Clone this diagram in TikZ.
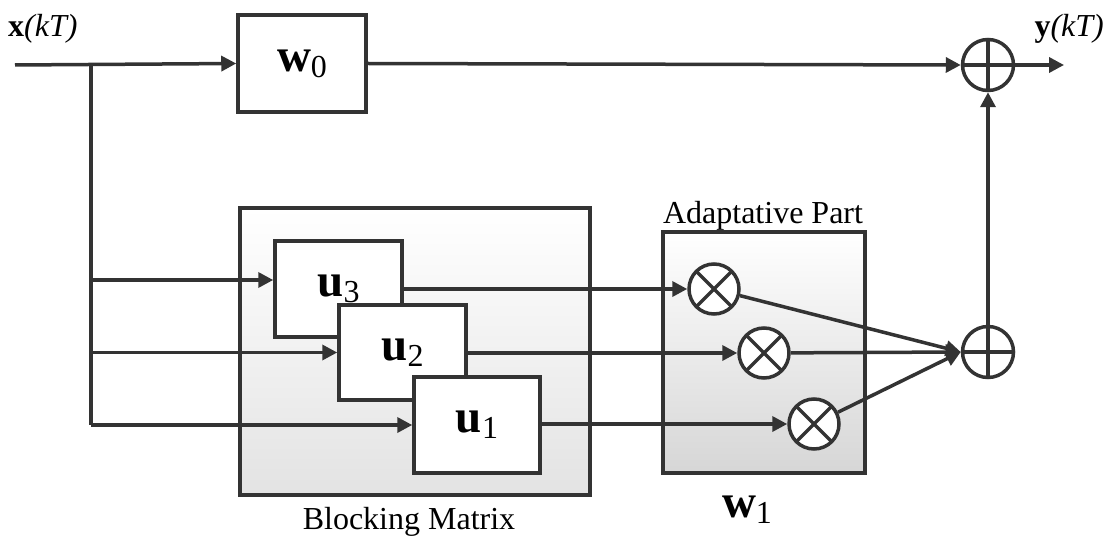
\documentclass[tikz,border=0pt]{standalone}
\usepackage{fontspec}
\setmainfont{Liberation Serif}
\usetikzlibrary{arrows.meta}
\definecolor{ln}{HTML}{333333}
\newcommand{\bsym}[2]{{\fontsize{47}{47}\selectfont\bfseries #1}{\fontsize{32}{32}\selectfont\raisebox{-6pt}{#2}}}
\begin{document}
\begin{tikzpicture}[x=1pt,y=-1pt,
  wire/.style={draw=ln, line width=3.5pt},
  arr/.style={wire, -{Triangle[length=15pt,width=15pt]}},
  blk/.style={draw=ln, line width=3.5pt, fill=white, inner sep=0pt},
  grp/.style={draw=ln, line width=3.5pt, inner sep=0pt, top color=white},
  lbl/.style={font=\fontsize{32}{34}\selectfont, inner sep=0pt},
  sumnode/.style={circle, draw=ln, line width=3.5pt, fill=white, minimum size=51pt, inner sep=0pt,
    path picture={\draw[ln, line width=3.5pt] (path picture bounding box.north) -- (path picture bounding box.south)
      (path picture bounding box.west) -- (path picture bounding box.east);}},
  mulnode/.style={circle, draw=ln, line width=3.5pt, fill=white, minimum size=50pt, inner sep=0pt,
    path picture={\draw[ln, line width=3.5pt] (path picture bounding box.north west) -- (path picture bounding box.south east)
      (path picture bounding box.south west) -- (path picture bounding box.north east);}}
]
\useasboundingbox (0,0) rectangle (1107,545);
% group boxes
\node[grp, bottom color=black!11, minimum width=350pt, minimum height=287pt] (bm) at (415,351.5) {};
\node[grp, bottom color=black!16, minimum width=202pt, minimum height=241pt] (ap) at (764,352.5) {};
% blocks
\node[blk, minimum width=128pt, minimum height=97pt] (w0) at (302,63.5) {\bsym{w}{0}};
\node[blk, minimum width=127pt, minimum height=96pt] (u3) at (338.5,289) {\bsym{u}{3}};
\node[blk, minimum width=127pt, minimum height=95pt] (u2) at (402.5,352.5) {\bsym{u}{2}};
\node[blk, minimum width=126pt, minimum height=96pt] (u1) at (477,425) {\bsym{u}{1}};
% circles
\node[sumnode] (s1) at (988,65) {};
\node[sumnode] (s2) at (988,352) {};
\node[mulnode] (m3) at (714,289) {};
\node[mulnode] (m2) at (764,353) {};
\node[mulnode] (m1) at (814,424) {};
% coordinates
\coordinate (in) at (15,65);
\coordinate (br) at (91,65);
\coordinate (out) at (1064,65);
\coordinate (u3in) at ([yshift=9pt]u3.west);
\coordinate (u2in) at (u2.west);
\coordinate (u1in) at (u1.west);
% wires
\draw[arr] (in) -- (w0.west);
\draw[wire] (br) -- (br |- u1in);
\draw[arr] (br |- u3in) -- (u3in);
\draw[arr] (br |- u2in) -- (u2in);
\draw[arr] (br |- u1in) -- (u1in);
\draw[arr] (w0.east) -- (s1.west);
\draw[arr] (s1.east) -- (out);
\draw[arr] (u3.east |- m3) -- (m3.west);
\draw[arr] (u2.east |- m2) -- (m2.west);
\draw[arr] (u1.east |- m1) -- (m1.west);
\draw[arr] (m3) -- (s2.west);
\draw[arr] (m2) -- (s2.west);
\draw[arr] (m1) -- (s2.west);
\draw[arr] (s2.north) -- (s1.south);
% labels
\node[lbl, anchor=west] (xl) at (8,29) {{\bfseries x}\textit{(kT)}};
\node[lbl, anchor=east] (yl) at (1104,29) {{\bfseries y}\textit{(kT)}};
\node[lbl] (apl) at (763,216) {Adaptative Part};
\node[lbl] (bml) at (409,522) {Blocking Matrix};
\node[inner sep=0pt] (w1l) at (747,510) {\bsym{w}{1}};
\end{tikzpicture}
\end{document}
